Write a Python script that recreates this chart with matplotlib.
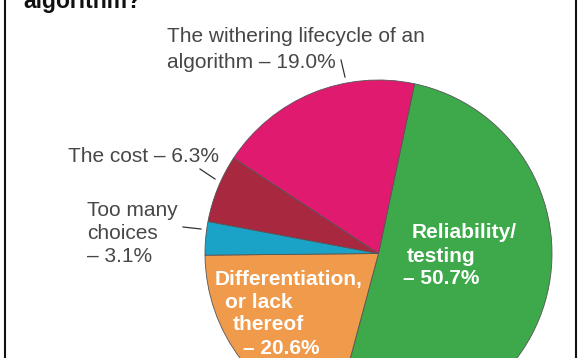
import matplotlib
matplotlib.use("Agg")
import matplotlib.pyplot as plt
from matplotlib.lines import Line2D

# Data
categories = ["Reliability/testing", "Differentiation, or lack thereof",
              "Too many choices", "The cost", "The withering lifecycle of an algorithm"]
values = [50.7, 20.6, 3.1, 6.3, 19.0]
colors = ["#3da94a", "#f09a4b", "#1ba2c7", "#a8283f", "#e01a6e"]

W, H = 580, 358
fig = plt.figure(figsize=(W / 100, H / 100), dpi=100)
fig.patch.set_facecolor("white")

def fx(x):
    return x / W

def fy(y):
    return 1 - y / H

# pie axes (pixel geometry)
cx, cy, r = 378.5, 253.5, 173.5
ax = fig.add_axes([fx(cx - r), fy(cy + r), 2 * r / W, 2 * r / H])
ax.pie(values, colors=colors, startangle=78, counterclock=False, radius=1,
       wedgeprops=dict(edgecolor="#555555", linewidth=0.6))
ax.set_xlim(-1, 1)
ax.set_ylim(-1, 1)
ax.set_aspect("equal")
ax.axis("off")

font = "Liberation Sans"
gray = "#474747"

# Title (partially cut off in reference)
fig.text(fx(23), fy(8), "algorithm?", fontsize=16.5, fontweight="bold",
         family=font, color="#111111", va="baseline", ha="left")

# Outside labels
fig.text(fx(167), fy(37), "The withering lifecycle of an", fontsize=15, family=font,
         color=gray, va="center", ha="left")
fig.text(fx(167), fy(62), "algorithm – 19.0%", fontsize=15, family=font,
         color=gray, va="center", ha="left")
fig.text(fx(68), fy(157), "The cost – 6.3%", fontsize=15, family=font,
         color=gray, va="center", ha="left")
for i, t in enumerate(["Too many", "choices", "– 3.1%"]):
    fig.text(fx(87), fy(210 + i * 23.5), t, fontsize=15, family=font,
             color=gray, va="center", ha="left")

# Leader lines
for (x0, y0, x1, y1) in [(341, 60, 345, 77), (200, 169, 215, 179), (183, 227, 201, 229)]:
    fig.add_artist(Line2D([fx(x0), fx(x1)], [fy(y0), fy(y1)], color="#333333",
                          linewidth=0.9, transform=fig.transFigure))

# Inside labels
for (x, y, t) in [(412, 232, "Reliability/"), (407, 256, "testing"), (403, 279, "– 50.7%")]:
    fig.text(fx(x), fy(y), t, fontsize=15, fontweight="bold", family=font,
             color="white", va="center", ha="left")
for (x, y, t) in [(215, 280, "Differentiation,"), (225, 302, "or lack"),
                  (233, 325, "thereof"), (243, 348, "– 20.6%")]:
    fig.text(fx(x), fy(y), t, fontsize=15, fontweight="bold", family=font,
             color="white", va="center", ha="left")

# Frame borders
for x in (4.5, 575.5):
    fig.add_artist(Line2D([fx(x), fx(x)], [0, 1], color="#111111", linewidth=1.5,
                          transform=fig.transFigure))

fig.savefig("out.png", dpi=100)
